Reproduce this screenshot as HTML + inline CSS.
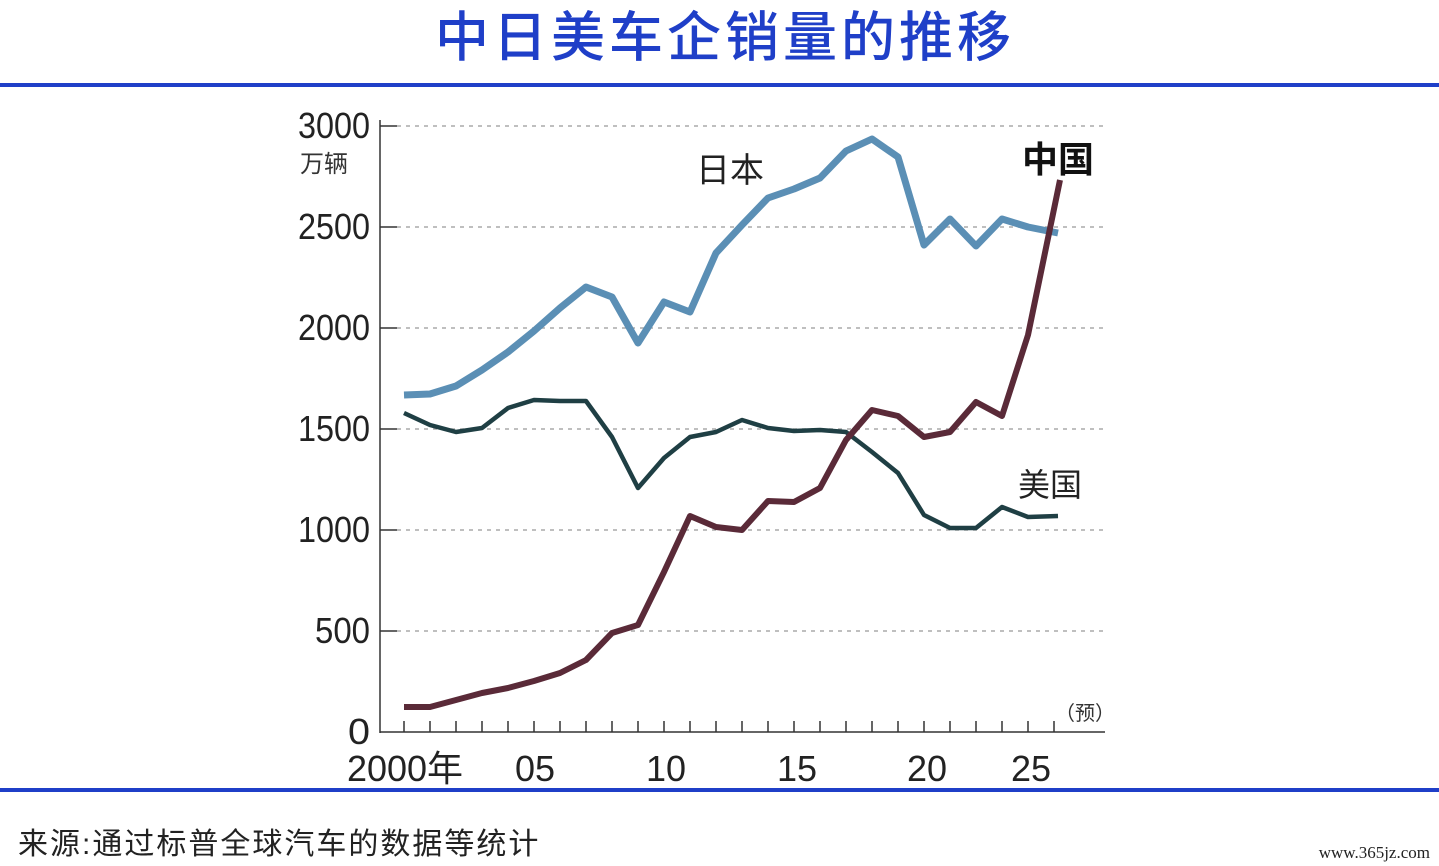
<!DOCTYPE html>
<html><head><meta charset="utf-8"><style>
body{margin:0;width:1439px;height:866px;background:#fff;overflow:hidden;font-family:"Liberation Sans","Noto Sans CJK SC",sans-serif}
</style></head><body>
<svg width="1439" height="866" xmlns="http://www.w3.org/2000/svg" style="position:absolute;left:0;top:0">
<text x="725" y="56" text-anchor="middle" font-size="54" font-weight="500" fill="#1f3fc8" font-family="Noto Sans CJK SC,sans-serif" letter-spacing="4">中日美车企销量的推移</text>
<rect x="0" y="83" width="1439" height="4" fill="#1f3fc8"/>
<rect x="0" y="788" width="1439" height="4" fill="#1f3fc8"/>
<g stroke="#aaa" stroke-width="1.5" stroke-dasharray="4,5">
<line x1="397" y1="631" x2="1105" y2="631"/><line x1="397" y1="530" x2="1105" y2="530"/>
<line x1="397" y1="429" x2="1105" y2="429"/><line x1="397" y1="328" x2="1105" y2="328"/>
<line x1="397" y1="227" x2="1105" y2="227"/><line x1="397" y1="126" x2="1105" y2="126"/>
</g>
<g stroke="#333" stroke-width="1.5">
<line x1="380" y1="120" x2="380" y2="733"/><line x1="380" y1="732" x2="1105" y2="732"/>
<line x1="380" y1="631" x2="397" y2="631"/><line x1="380" y1="530" x2="397" y2="530"/><line x1="380" y1="429" x2="397" y2="429"/><line x1="380" y1="328" x2="397" y2="328"/><line x1="380" y1="227" x2="397" y2="227"/><line x1="380" y1="126" x2="397" y2="126"/>
<path d="M404 732v-11M430 732v-11M456 732v-11M482 732v-11M508 732v-11M534 732v-11M560 732v-11M586 732v-11M612 732v-11M638 732v-11M664 732v-11M690 732v-11M716 732v-11M742 732v-11M768 732v-11M794 732v-11M820 732v-11M846 732v-11M872 732v-11M898 732v-11M924 732v-11M950 732v-11M976 732v-11M1002 732v-11M1028 732v-11M1054 732v-11"/>
</g>
<g font-size="36" fill="#222" text-anchor="end" font-family="Liberation Sans Narrow,Liberation Sans,sans-serif">
<text x="370" y="744" textLength="22" lengthAdjust="spacingAndGlyphs">0</text><text x="370" y="643" textLength="55" lengthAdjust="spacingAndGlyphs">500</text><text x="370" y="542" textLength="72" lengthAdjust="spacingAndGlyphs">1000</text><text x="370" y="441" textLength="72" lengthAdjust="spacingAndGlyphs">1500</text><text x="370" y="340" textLength="72" lengthAdjust="spacingAndGlyphs">2000</text><text x="370" y="239" textLength="72" lengthAdjust="spacingAndGlyphs">2500</text><text x="370" y="138" textLength="72" lengthAdjust="spacingAndGlyphs">3000</text>
</g>
<text x="300" y="172" font-size="24" fill="#333">万辆</text>
<g font-size="36" fill="#222" text-anchor="middle" font-family="Liberation Sans Narrow,Liberation Sans,sans-serif">
<text x="405" y="781">2000年</text><text x="535" y="781">05</text><text x="666" y="781">10</text><text x="797" y="781">15</text><text x="927" y="781">20</text><text x="1031" y="781">25</text>
</g>
<text x="1085" y="720" font-size="20" fill="#333" text-anchor="middle">（预）</text>
<polyline fill="none" stroke="#5b8fb5" stroke-width="7" stroke-linejoin="round" points="404,395 430,394 456,386 482,370 508,352 534,331 560,308 586,287 612,297 638,343 664,302 690,312 716,253 742,225 768,198 794,189 820,178 846,151 872,139 898,157 924,245 950,219 976,246 1002,219 1028,227 1058,233"/>
<polyline fill="none" stroke="#1f3f44" stroke-width="4.5" stroke-linejoin="round" points="404,413 430,425 456,432 482,428 508,408 534,400 560,401 586,401 612,437 638,488 664,458 690,437 716,432 742,420 768,428 794,431 820,430 846,432 872,452 898,473 924,515 950,528 976,528 1002,507 1028,517 1058,516"/>
<polyline fill="none" stroke="#5a2a38" stroke-width="6" stroke-linejoin="round" points="404,707 430,707 456,700 482,693 508,688 534,681 560,673 586,660 612,633 638,625 664,572 690,516 716,527 742,530 768,501 794,502 820,488 846,440 872,410 898,416 924,437 950,432 976,402 1002,416 1028,335 1060,180"/>
<text x="696" y="182" font-size="34" fill="#222">日本</text>
<text x="1022" y="172" font-size="36" font-weight="bold" fill="#111">中国</text>
<text x="1018" y="496" font-size="32" fill="#222">美国</text>
<text x="18" y="854" font-size="30" fill="#222" letter-spacing="2">来源:通过标普全球汽车的数据等统计</text>
<text x="1430" y="858" font-size="17" fill="#222" text-anchor="end" font-family="Liberation Serif,serif">www.365jz.com</text>
</svg>
</body></html>
